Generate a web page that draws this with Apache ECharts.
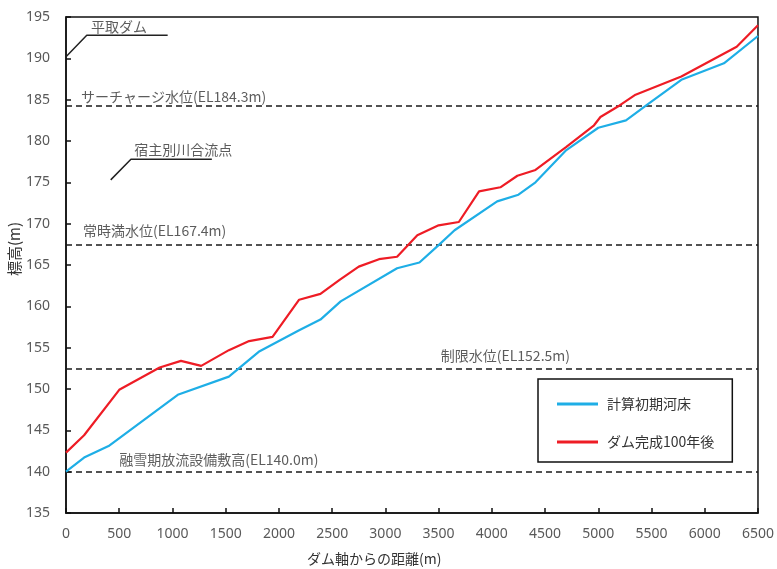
<!DOCTYPE html>
<html>
<head>
<meta charset="utf-8">
<script src="https://cdn.jsdelivr.net/npm/echarts@6/dist/echarts.min.js"></script>
<style>
  html, body { margin: 0; padding: 0; background: #fff; }
  #chart { width: 777px; height: 569px; }
</style>
</head>
<body>
<div id="chart"></div>
<script>
// 計算初期河床
const initDist = [0, 170, 400, 1050, 1530, 1810, 2190, 2390, 2580, 3110, 3320, 3500, 3650, 4050, 4250, 4410, 4700, 5000, 5260, 5460, 5780, 6180, 6500];
const initElev = [140.0, 141.7, 143.1, 149.3, 151.5, 154.5, 157.1, 158.4, 160.6, 164.6, 165.3, 167.4, 169.2, 172.7, 173.5, 175.0, 178.9, 181.6, 182.5, 184.4, 187.4, 189.4, 192.7];

// ダム完成100年後
const afterDist = [0, 170, 500, 880, 1080, 1270, 1530, 1720, 1940, 2190, 2390, 2570, 2750, 2940, 3110, 3300, 3500, 3690, 3880, 4080, 4240, 4410, 4700, 4960, 5020, 5200, 5350, 5780, 6300, 6500];
const afterElev = [142.3, 144.4, 149.9, 152.6, 153.4, 152.8, 154.7, 155.8, 156.3, 160.8, 161.5, 163.2, 164.8, 165.7, 166.0, 168.6, 169.8, 170.2, 173.9, 174.4, 175.8, 176.5, 179.3, 181.9, 182.9, 184.3, 185.6, 187.8, 191.4, 194.0];

// 水位線
const levelValues = [184.3, 167.4, 152.5, 140.0];
const levelLabels = ['サーチャージ水位(EL184.3m)', '常時満水位(EL167.4m)', '制限水位(EL152.5m)', '融雪期放流設備敷高(EL140.0m)'];
const levelLabelAt = [[140, 185.4], [160, 169.1], [3520, 154.0], [500, 141.5]];

// 地点注記
const placeLabels = ['平取ダム', '宿主別川合流点'];
const placeLabelAt = [[235, 193.8], [640, 179.0]];
const damLeader = [[0, 190.2], [195, 192.8], [955, 192.8]];
const confLeader = [[420, 175.3], [610, 177.8], [1370, 177.8]];

const seriesNames = ['計算初期河床', 'ダム完成100年後'];

const FONT = '"Noto Sans CJK JP", "Noto Sans", sans-serif';

const chart = echarts.init(document.getElementById('chart'));

const toPairs = (xs, ys) => xs.map((x, i) => [x, ys[i]]);

const textPoints = levelLabels.map((t, i) => ({ value: levelLabelAt[i], name: t }))
  .concat(placeLabels.map((t, i) => ({ value: placeLabelAt[i], name: t })));

const leaderStyle = { color: '#222', width: 1.5 };

chart.setOption({
  animation: false,
  textStyle: { fontFamily: FONT },
  grid: {
    left: 66, right: 18, top: 17, bottom: 56,
    show: true, borderColor: '#111', borderWidth: 1.5, backgroundColor: 'transparent'
  },
  legend: {
    data: seriesNames,
    orient: 'vertical',
    left: 538, top: 379,
    backgroundColor: '#fff',
    borderColor: '#111', borderWidth: 1.5, borderRadius: 0,
    padding: [16, 18, 11, 19],
    icon: 'rect',
    itemWidth: 41, itemHeight: 3, itemGap: 20,
    textStyle: { fontSize: 14, color: '#333', fontFamily: FONT, lineHeight: 18, padding: [0, 0, 0, 4] }
  },
  xAxis: {
    type: 'value', min: 0, max: 6500, interval: 500,
    axisLine: { show: true, lineStyle: { color: '#111', width: 1.5 } },
    axisTick: { show: true, inside: true, length: 5, lineStyle: { color: '#111', width: 1.5 } },
    axisLabel: { fontSize: 14, color: '#595959', margin: 14, fontFamily: '"Noto Sans", sans-serif', formatter: v => String(v) },
    splitLine: { show: false }
  },
  yAxis: {
    type: 'value', min: 135, max: 195, interval: 5,
    axisLine: { show: true, lineStyle: { color: '#111', width: 1.5 } },
    axisTick: { show: true, inside: true, length: 5, lineStyle: { color: '#111', width: 1.5 } },
    axisLabel: { fontSize: 14, color: '#595959', margin: 16, fontFamily: '"Noto Sans", sans-serif' },
    splitLine: { show: false }
  },
  graphic: [
    {
      type: 'text', x: 7, y: 276, rotation: Math.PI / 2,
      style: { text: '標高(m)', font: '15px ' + FONT, fill: '#333' }
    },
    {
      type: 'text', x: 307, y: 552,
      style: { text: 'ダム軸からの距離(m)', font: '14px ' + FONT, fill: '#333' }
    }
  ],
  series: [
    {
      name: 'levels', type: 'line', data: [], silent: true,
      markLine: {
        symbol: 'none', silent: true, animation: false,
        label: { show: false },
        lineStyle: { color: '#1a1a1a', type: [6, 4], width: 1.6 },
        data: levelValues.map(v => ({ yAxis: v }))
      }
    },
    {
      name: 'damLeader', type: 'line', data: damLeader, symbol: 'none',
      lineStyle: leaderStyle, silent: true, z: 3
    },
    {
      name: 'confLeader', type: 'line', data: confLeader, symbol: 'none',
      lineStyle: leaderStyle, silent: true, z: 3
    },
    {
      name: 'notes', type: 'scatter', data: textPoints, symbolSize: 0, silent: true,
      label: {
        show: true, position: 'right', distance: 0,
        formatter: p => p.name,
        fontSize: 14, color: '#333', fontFamily: FONT
      }
    },
    {
      name: seriesNames[0], type: 'line', data: toPairs(initDist, initElev),
      symbol: 'none', lineStyle: { color: '#1EAEE6', width: 2.2 }, itemStyle: { color: '#1EAEE6' }, z: 5
    },
    {
      name: seriesNames[1], type: 'line', data: toPairs(afterDist, afterElev),
      symbol: 'none', lineStyle: { color: '#EE1C25', width: 2.2 }, itemStyle: { color: '#EE1C25' }, z: 6
    }
  ]
});
</script>
</body>
</html>
